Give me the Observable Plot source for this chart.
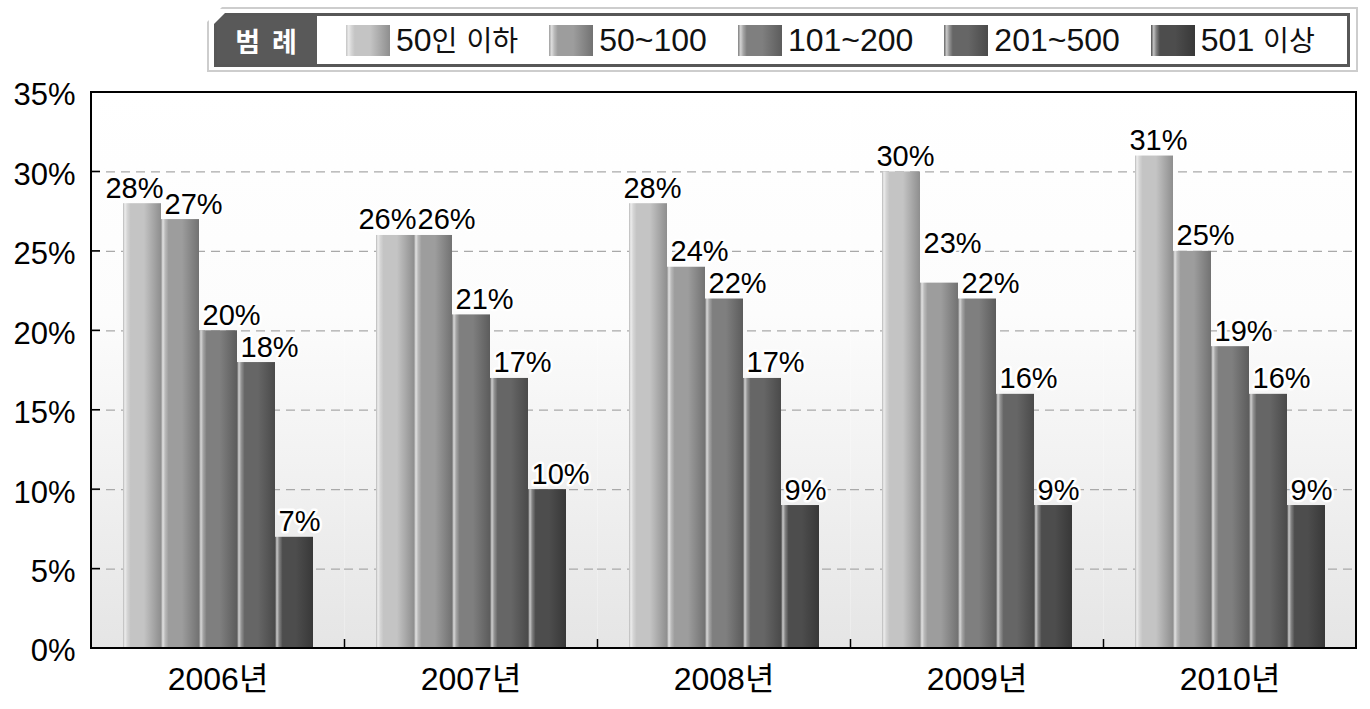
<!DOCTYPE html>
<html>
<head>
<meta charset="utf-8">
<script src="https://cdn.jsdelivr.net/npm/d3@7"></script>
<script src="https://cdn.jsdelivr.net/npm/@observablehq/plot@0.6"></script>
<style>
  html, body { margin: 0; padding: 0; background: #fff; }
  body { width: 1370px; height: 709px; overflow: hidden; font-family: "Liberation Sans", "Noto Sans CJK KR", sans-serif; }
  #legend { position: relative; height: 78px; }
  .lg-outer {
    position: absolute; left: 207px; top: 7px; width: 1147px; height: 61px;
    border: 2px solid #cdcdcd; background: #fff;
    clip-path: polygon(15px 0, 100% 0, 100% 100%, 0 100%, 0 15px);
  }
  .lg-inner {
    position: absolute; left: 5px; top: 4px; right: 6px; bottom: 3px;
    border: 3px solid #575757; display: flex; align-items: center;
    clip-path: polygon(11px 0, 100% 0, 100% 100%, 0 100%, 0 11px);
  }
  .lg-title {
    flex: 0 0 100px;
    background: #595959; color: #fff; font-weight: bold; font-size: 27px;
    width: 100px; height: 100%; display: flex; align-items: center; justify-content: center;
    letter-spacing: 12px; padding-left: 10px; box-sizing: border-box; white-space: nowrap;
    font-family: "Noto Sans CJK KR", sans-serif;
  }
  .lg-item { display: flex; align-items: center; margin-left: 31px; flex: 0 0 auto; }
  .lg-sw { width: 44px; height: 31px; margin-right: 6px; }
  .lg-tx { font-size: 32px; color: #111; white-space: nowrap; line-height: 1; }
  .lg-tx .hg { font-family: "Noto Sans CJK KR", sans-serif; font-size: 0.88em; }
</style>
</head>
<body>
<div id="legend"></div>
<div id="chart"></div>
<script>
// ---- data ----
const years = ["2006년", "2007년", "2008년", "2009년", "2010년"];
const seriesNames = ["50인 이하", "50~100", "101~200", "201~500", "501 이상"];
const under50 = [28, 26, 28, 30, 31];
const s50to100 = [27, 26, 24, 23, 25];
const s101to200 = [20, 21, 22, 22, 19];
const s201to500 = [18, 17, 17, 16, 16];
const over501 = [7, 10, 9, 9, 9];
const yTicks = [0, 5, 10, 15, 20, 25, 30, 35];
const baseColors = ["#c4c4c4", "#9d9d9d", "#7f7f7f", "#666666", "#4d4d4d"];

(function () {
const seriesValues = [under50, s50to100, s101to200, s201to500, over501];
const data = years.flatMap((yr, i) => seriesNames.map((s, j) => {
  const v = seriesValues[j][i];
  const collide = j < 4 && v - seriesValues[j + 1][i] < 1.5; // next label would collide
  return {
    year: yr, series: s, idx: j, value: v, grad: `url(#barg${j})`,
    collide, lift: (j > 0 && collide) ? 1.5 : 0
  };
}));

function light(c, k) { return d3.interpolateRgb(c, "#ffffff")(k); }

// ---- legend ----
const legend = document.getElementById("legend");
const outer = document.createElement("div"); outer.className = "lg-outer";
const inner = document.createElement("div"); inner.className = "lg-inner";
const title = document.createElement("div"); title.className = "lg-title"; title.textContent = "범례";
inner.appendChild(title);
seriesNames.forEach((s, j) => {
  const it = document.createElement("div"); it.className = "lg-item";
  if (j === 0) it.style.marginLeft = "29px";
  const sw = document.createElement("div"); sw.className = "lg-sw";
  const b = baseColors[j];
  sw.style.background = `linear-gradient(to right, ${b} 0%, ${light(b, 0.65)} 6%, ${light(b, 0.3)} 12%, ${b} 20%, ${b} 55%, ${d3.rgb(b).darker(0.9).formatHex()} 100%)`;
  const tx = document.createElement("div"); tx.className = "lg-tx";
  s.split(/([가-힣]+)/).forEach(part => {
    if (!part) return;
    if (/[가-힣]/.test(part)) { const sp = document.createElement("span"); sp.className = "hg"; sp.textContent = part; tx.appendChild(sp); }
    else tx.appendChild(document.createTextNode(part));
  });
  it.appendChild(sw); it.appendChild(tx); inner.appendChild(it);
});
outer.appendChild(inner); legend.appendChild(outer);

// ---- chart ----
const fontStack = "'Liberation Sans', 'Noto Sans CJK KR', sans-serif";
const labelOpts = { fx: "year", x: "series", y: d => d.value + d.lift, text: d => d.value + "%",
  lineAnchor: "bottom", dy: -6, fontSize: 29, fill: "#000", stroke: "#fff", strokeWidth: 5 };
const chart = Plot.plot({
  width: 1370, height: 631,
  marginTop: 14, marginBottom: 61, marginLeft: 91, marginRight: 14,
  style: { fontFamily: fontStack, color: "#000", background: "transparent" },
  fx: { domain: years, padding: 0, label: null },
  x: { domain: seriesNames, paddingInner: 0, paddingOuter: 0.744, axis: null },
  y: { domain: [0, 35], label: null },
  color: { type: "identity" },
  marks: [
    Plot.frame({ fill: "url(#bggrad)", stroke: "none" }),
    Plot.gridY(yTicks.filter(d => d > 0 && d < 35), { stroke: "#a9a9a9", strokeOpacity: 1, strokeWidth: 1.3, strokeDasharray: "9,6" }),
    Plot.barY(data, { fx: "year", x: "series", y: "value", fill: "grad" }),
    Plot.text(data.filter(d => d.idx === 0 && d.collide), { ...labelOpts, textAnchor: "end", dx: 21 }),
    Plot.text(data.filter(d => d.idx === 0 && !d.collide), { ...labelOpts, textAnchor: "middle", dx: 4 }),
    Plot.text(data.filter(d => d.idx > 0), { ...labelOpts, textAnchor: "start", dx: -16 }),
    Plot.axisY({ ticks: yTicks, tickFormat: d => d + "%", tickSize: 0, tickPadding: 16, fontSize: 31, dy: 3, label: null }),
    Plot.axisFx({ anchor: "bottom", tickSize: 0, tickPadding: 19, fontSize: 32, label: null })
  ]
});
document.getElementById("chart").appendChild(chart);

// ---- gradients and frame decorations ----
const svgEl = chart.tagName.toLowerCase() === "svg" ? chart : chart.querySelector("svg");
const svg = d3.select(svgEl);
const defs = svg.insert("defs", ":first-child");
const bg = defs.append("linearGradient").attr("id", "bggrad").attr("x1", 0).attr("y1", 0).attr("x2", 0).attr("y2", 1);
[[0, "#ffffff"], [0.4, "#fcfcfc"], [1, "#e5e5e5"]].forEach(([o, c]) => bg.append("stop").attr("offset", o).attr("stop-color", c));
baseColors.forEach((b, j) => {
  const g = defs.append("linearGradient").attr("id", `barg${j}`).attr("x1", 0).attr("y1", 0).attr("x2", 1).attr("y2", 0);
  [[0, d3.rgb(b).darker(0.2).formatHex()], [0.05, light(b, 0.7)], [0.11, light(b, 0.3)], [0.2, b], [0.55, b], [1, d3.rgb(b).darker(0.9).formatHex()]]
    .forEach(([o, c]) => g.append("stop").attr("offset", o).attr("stop-color", c));
});

const fxS = chart.scale("fx"), yS = chart.scale("y");
const xL = 91, xR = 1370 - 14, yT = 14, yB = 631 - 61;
const deco = svg.append("g").attr("stroke", "#000").attr("fill", "none");
deco.append("rect").attr("x", xL).attr("y", yT).attr("width", xR - xL).attr("height", yB - yT).attr("stroke-width", 2);
yTicks.forEach(v => {
  const y = yS.apply(v);
  deco.append("line").attr("x1", xL).attr("x2", xL + 9).attr("y1", y).attr("y2", y).attr("stroke-width", 1.5);
});
years.slice(1).forEach(yr => {
  const x = Math.round(fxS.apply(yr)) + 0.5;
  deco.append("line").attr("x1", x).attr("x2", x).attr("y1", yB).attr("y2", yB - 9).attr("stroke-width", 1.5);
});
})();
</script>
</body>
</html>
